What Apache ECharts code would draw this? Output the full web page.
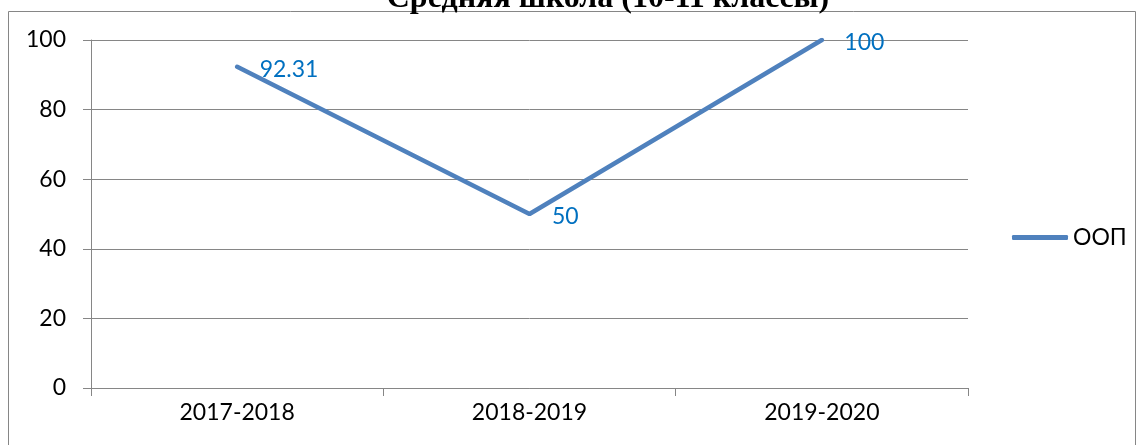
<!DOCTYPE html>
<html>
<head>
  <meta charset="utf-8" />
  <title>Средняя школа (10-11 классы)</title>
  <script src="https://cdn.jsdelivr.net/npm/echarts@6/dist/echarts.min.js"></script>
  <style>
    html, body { margin: 0; padding: 0; background: #fff; }
    #container { width: 1137px; height: 445px; }
  </style>
</head>
<body>
  <div id="container"></div>
  <script>
    // данные графика
    var years = ['2017-2018', '2018-2019', '2019-2020'];
    var oopValues = [92.31, 50, 100];
    var seriesName = 'ООП';
    var chartTitle = 'Средняя школа (10-11 классы)';

    var font = 'Lato, "Open Sans", sans-serif';
    var gray = '#868686';

    var myChart = echarts.init(document.getElementById('container'));

    var option = {
      animation: false,
      graphic: [
        {
          // рамка вокруг диаграммы
          type: 'rect',
          shape: { x: 8.5, y: 11.5, width: 1127, height: 450 },
          style: { fill: 'none', stroke: gray, lineWidth: 1 },
          silent: true
        },
        {
          // заголовок, обрезанный сверху
          type: 'text',
          x: 608,
          y: -17,
          style: {
            text: chartTitle,
            font: 'bold 32px "Liberation Serif", "DejaVu Serif", serif',
            fill: '#000',
            textAlign: 'center'
          },
          silent: true
        }
      ],
      legend: {
        data: [{ name: seriesName, icon: 'roundRect' }],
        left: 1007,
        top: 221,
        itemWidth: 56,
        itemHeight: 5,
        itemStyle: { color: '#4F81BD' },
        textStyle: { fontFamily: font, fontSize: 23, color: '#000' }
      },
      grid: {
        left: 91,
        right: 169,
        top: 40,
        bottom: 57
      },
      xAxis: {
        type: 'category',
        data: years,
        boundaryGap: true,
        axisLine: { lineStyle: { color: gray, width: 1 } },
        axisTick: { show: true, alignWithLabel: false, length: 8, lineStyle: { color: gray } },
        axisLabel: { fontFamily: font, fontSize: 23, color: '#000', margin: 13 }
      },
      yAxis: {
        type: 'value',
        min: 0,
        max: 100,
        interval: 20,
        axisLine: { show: true, lineStyle: { color: gray, width: 1 } },
        axisTick: { show: true, length: 8, lineStyle: { color: gray } },
        axisLabel: { fontFamily: font, fontSize: 23, color: '#000', margin: 25 },
        splitLine: { show: true, lineStyle: { color: gray, width: 1 } }
      },
      series: [{
        name: seriesName,
        type: 'line',
        data: oopValues,
        symbol: 'circle',
        symbolSize: 1,
        showSymbol: true,
        lineStyle: { color: '#4F81BD', width: 4.5, cap: 'round' },
        itemStyle: { color: '#4F81BD' },
        label: {
          show: true,
          position: 'right',
          distance: 22,
          offset: [0, 3],
          fontFamily: font,
          fontSize: 23,
          color: '#0070C0'
        }
      }]
    };

    myChart.setOption(option);
  </script>
</body>
</html>
